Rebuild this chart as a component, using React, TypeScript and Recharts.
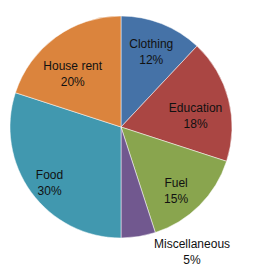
import React from "react";
import { PieChart, Pie, Cell } from "recharts";

const categories = ["Clothing", "Education", "Fuel", "Miscellaneous", "Food", "House rent"];
const shares = [12, 18, 15, 5, 30, 20];
const colors = ["#4572A7", "#AA4643", "#89A54E", "#71588F", "#4198AF", "#DB843D"];

// small manual nudges for the "best fit" label placement of the original
const labelNudge = [
  [0, 0],
  [-5, 8],
  [-3, 5],
  [0, 0],
  [-5, 7],
  [0, 12],
];

const data = categories.map((name, i) => ({ name, value: shares[i] }));

const RADIAN = Math.PI / 180;

const renderLabel = (props: any) => {
  const { cx, cy, midAngle, outerRadius, percent, name, value, index } = props;
  let x: number;
  let y: number;
  if (percent < 0.1) {
    // small slice: label sits outside, below the slice
    x = cx + outerRadius * 0.64;
    y = cy + outerRadius + 13;
  } else {
    const r = outerRadius * 0.74;
    const [nx, ny] = labelNudge[index] || [0, 0];
    x = cx + r * Math.cos(-midAngle * RADIAN) + nx;
    y = cy + r * Math.sin(-midAngle * RADIAN) + ny;
  }
  return (
    <text
      x={x}
      y={y}
      textAnchor="middle"
      fill="#111"
      fontSize={12}
      fontFamily="Liberation Sans, Arial, sans-serif"
    >
      <tspan x={x} dy={-3}>
        {name}
      </tspan>
      <tspan x={x} dy={16}>
        {`${value}%`}
      </tspan>
    </text>
  );
};

const App = () => {
  return (
    <div style={{ position: "absolute", left: 0, top: 0, background: "#fff" }}>
      <PieChart width={258} height={268} margin={{ top: 0, right: 0, bottom: 0, left: 0 }}>
        <Pie
          data={data}
          dataKey="value"
          nameKey="name"
          cx={121}
          cy={127}
          outerRadius={111}
          startAngle={90}
          endAngle={-270}
          stroke="#ffffff"
          strokeWidth={0.5}
          labelLine={false}
          label={renderLabel}
          isAnimationActive={false}
        >
          {data.map((entry, index) => (
            <Cell key={`cell-${index}`} fill={colors[index % colors.length]} />
          ))}
        </Pie>
      </PieChart>
    </div>
  );
};

export default App;
